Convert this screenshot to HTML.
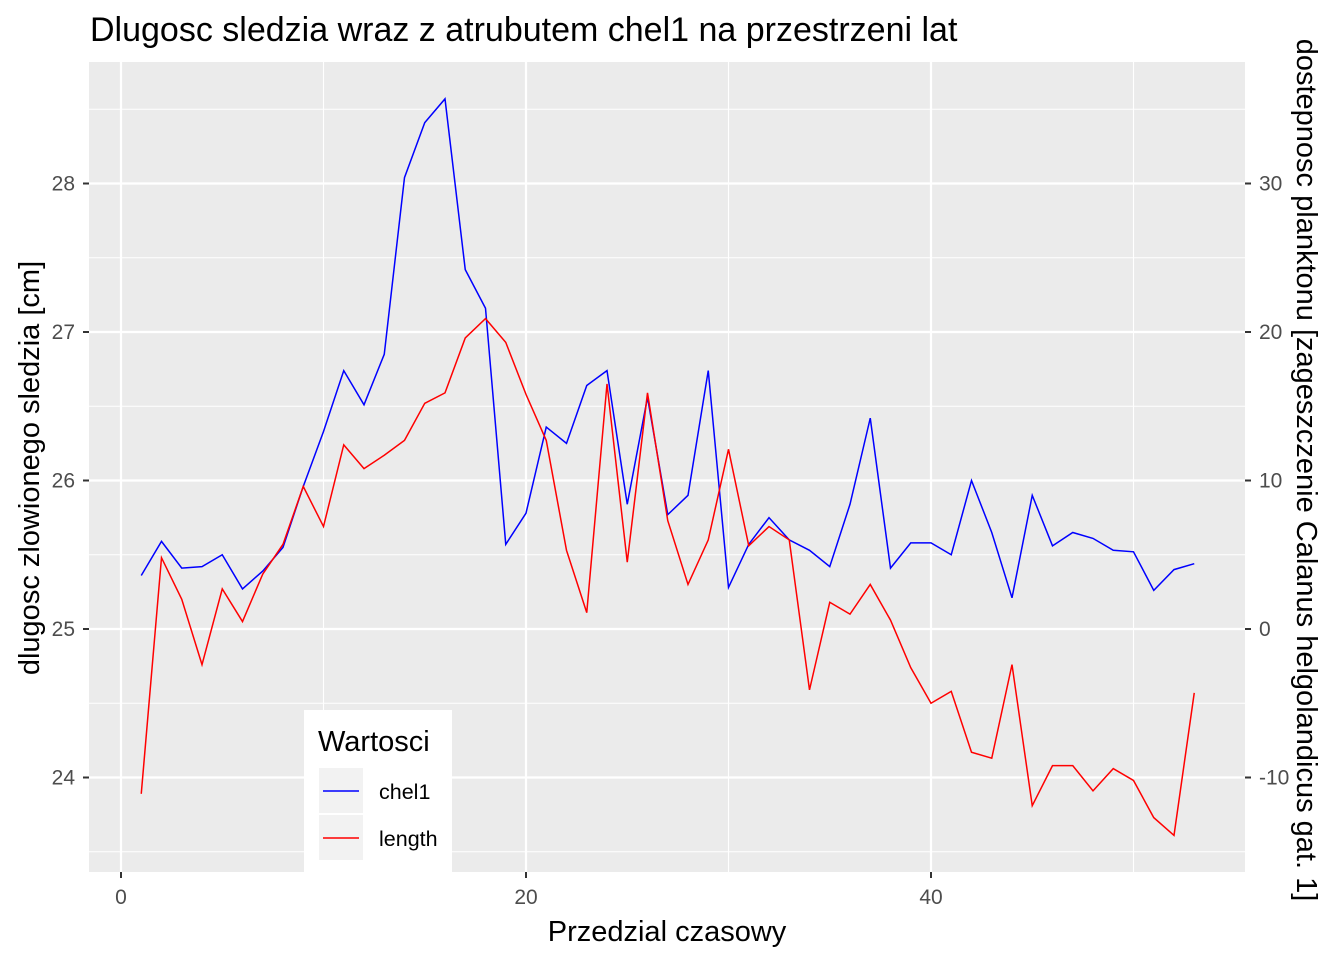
<!DOCTYPE html>
<html><head><meta charset="utf-8"><style>
html,body{margin:0;padding:0;background:#fff;}
svg{display:block;font-family:"Liberation Sans",Arial,sans-serif;}
</style></head><body>
<svg id="chart" width="1344" height="960" viewBox="0 0 1344 960">
<rect x="0" y="0" width="1344" height="960" fill="#fff"/>
<g id="plot"></g>
</svg>
<script>
const xValues = [1,2,3,4,5,6,7,8,9,10,11,12,13,14,15,16,17,18,19,20,21,22,23,24,25,26,27,28,29,30,31,32,33,34,35,36,37,38,39,40,41,42,43,44,45,46,47,48,49,50,51,52,53];
const lengthValues = [23.89,25.48,25.20,24.76,25.27,25.05,25.37,25.57,25.96,25.69,26.24,26.08,26.17,26.27,26.52,26.59,26.96,27.09,26.93,26.58,26.27,25.53,25.11,26.65,25.45,26.59,25.73,25.30,25.60,26.21,25.56,25.69,25.60,24.59,25.18,25.10,25.30,25.06,24.74,24.50,24.58,24.17,24.13,24.76,23.81,24.08,24.08,23.91,24.06,23.98,23.73,23.61,24.57];
const chel1Values = [3.6,5.9,4.1,4.2,5.0,2.7,3.9,5.5,9.6,13.3,17.4,15.1,18.5,30.4,34.1,35.7,24.2,21.6,5.7,7.8,13.6,12.5,16.4,17.4,8.4,15.6,7.7,9.0,17.4,2.8,5.7,7.5,6.0,5.3,4.2,8.4,14.2,4.1,5.8,5.8,5.0,10.0,6.5,2.1,9.0,5.6,6.5,6.1,5.3,5.2,2.6,4.0,4.4];
const xTicks = [0,20,40];
const xMinor = [10,30,50];
const yTicks = [24,25,26,27,28];
const yMinor = [23.5,24.5,25.5,26.5,27.5,28.5];
const y2Ticks = [-10,0,10,20,30];

const NS="http://www.w3.org/2000/svg";
const g=document.getElementById('plot');
const P={l:89,r:1245,t:62,b:872};
const X=v=>121+v*20.25;
const Y=v=>629-(v-25)*148.5;
const Y2=v=>629-v*14.85;
function el(tag,attrs,parent){const e=document.createElementNS(NS,tag);for(const k in attrs)e.setAttribute(k,attrs[k]);(parent||g).appendChild(e);return e;}
function txt(s,attrs){const e=el('text',attrs);e.textContent=s;return e;}

const bg=el('rect',{x:P.l,y:P.t,width:P.r-P.l,height:P.b-P.t,fill:'#ebebeb'});


yMinor.forEach(v=>{const l=el('line',{x1:P.l,x2:P.r,y1:Y(v),y2:Y(v),stroke:'#fff','stroke-width':1.1});

});
xMinor.forEach(v=>{const l=el('line',{x1:X(v),x2:X(v),y1:P.t,y2:P.b,stroke:'#fff','stroke-width':1.1});

});
yTicks.forEach(v=>{const l=el('line',{x1:P.l,x2:P.r,y1:Y(v),y2:Y(v),stroke:'#fff','stroke-width':2.2});


el('line',{x1:P.l-6,x2:P.l,y1:Y(v),y2:Y(v),stroke:'#333','stroke-width':2});
const t=txt(String(v),{x:P.l-14,y:Y(v)+7,'text-anchor':'end','font-size':21,fill:'#4d4d4d'});

});
y2Ticks.forEach(v=>{el('line',{x1:P.r,x2:P.r+6,y1:Y2(v),y2:Y2(v),stroke:'#333','stroke-width':2});
const t=txt(String(v),{x:P.r+14,y:Y2(v)+7,'font-size':21,fill:'#4d4d4d'});

});
xTicks.forEach(v=>{const l=el('line',{x1:X(v),x2:X(v),y1:P.t,y2:P.b,stroke:'#fff','stroke-width':2.2});


el('line',{x1:X(v),x2:X(v),y1:P.b,y2:P.b+6,stroke:'#333','stroke-width':2});
const t=txt(String(v),{x:X(v),y:P.b+32,'text-anchor':'middle','font-size':21,fill:'#4d4d4d'});

});

const pc=el('polyline',{points:xValues.map((x,i)=>X(x)+','+Y2(chel1Values[i])).join(' '),fill:'none',stroke:'#0000ff','stroke-width':1.5});


const pl=el('polyline',{points:xValues.map((x,i)=>X(x)+','+Y(lengthValues[i])).join(' '),fill:'none',stroke:'#ff0000','stroke-width':1.5});



const lg=el('g',{});


el('rect',{x:304,y:710,width:148,height:163,fill:'#fff'},lg);
const lt=el('text',{x:318,y:751,'font-size':29,fill:'#000'},lg);lt.textContent='Wartosci';


[['chel1','#0000ff',768],['length','#ff0000',815]].forEach(([n,c,y])=>{
el('rect',{x:319,y:y,width:44,height:45,fill:'#f2f2f2'},lg);
el('line',{x1:323,x2:359,y1:y+23,y2:y+23,stroke:c,'stroke-width':1.5},lg);
const t=el('text',{x:379,y:y+31,'font-size':21.5,fill:'#000'},lg);t.textContent=n;

});

const tt=txt('Dlugosc sledzia wraz z atrubutem chel1 na przestrzeni lat',{x:90,y:41,'font-size':34,fill:'#000'});


const xt=txt('Przedzial czasowy',{x:667,y:941,'text-anchor':'middle','font-size':29,fill:'#000'});


const yt=txt('dlugosc zlowionego sledzia [cm]',{x:0,y:0,'text-anchor':'middle','font-size':29,fill:'#000',transform:'translate(39,468) rotate(-90)'});


const y2t=txt('dostepnosc planktonu [zageszczenie Calanus helgolandicus gat. 1]',{x:0,y:0,'text-anchor':'middle','font-size':29,fill:'#000',transform:'translate(1297,470) rotate(90)'});


</script>
</body></html>
